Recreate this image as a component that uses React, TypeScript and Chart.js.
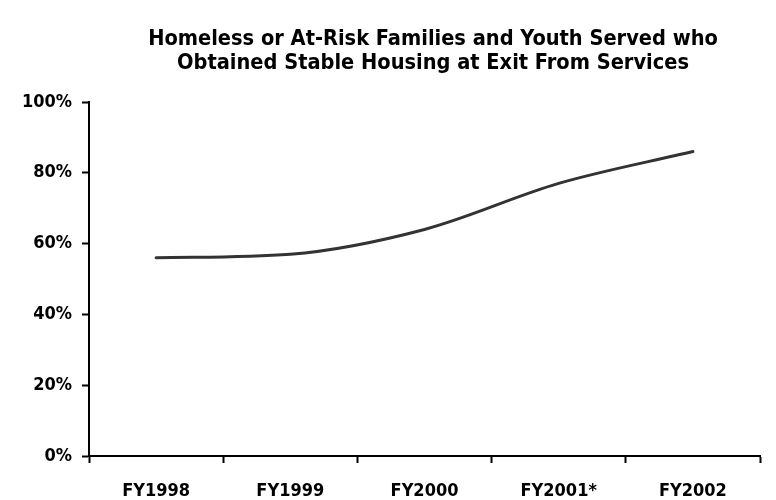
import React, { useEffect, useRef } from "react";
import { Chart, registerables } from "chart.js";

Chart.register(...registerables);

const titleLines = [
  "Homeless or At-Risk Families and Youth Served who",
  "Obtained Stable Housing at Exit From Services",
];
const categories = ["FY1998", "FY1999", "FY2000", "FY2001*", "FY2002"];
const stableHousingPct = [56, 57, 64, 77, 86];
const yTicks = [0, 20, 40, 60, 80, 100];

const FONT = "'DejaVu Sans Condensed', 'DejaVu Sans', sans-serif";

const titlePlugin = {
  id: "customTitle",
  afterDraw(chart: any) {
    const ctx = chart.ctx;
    ctx.save();
    ctx.fillStyle = "#000";
    ctx.font = `bold 21.6px ${FONT}`;
    ctx.textAlign = "center";
    ctx.textBaseline = "middle";
    titleLines.forEach((line, i) => {
      ctx.fillText(line, 425, 31 + i * 24);
    });
    ctx.restore();
  },
};

export default function App() {
  const ref = useRef<HTMLCanvasElement | null>(null);
  useEffect(() => {
    if (!ref.current) return;
    const chart = new Chart(ref.current, {
      type: "line",
      data: {
        labels: categories,
        datasets: [
          {
            data: stableHousingPct,
            borderColor: "#333333",
            borderWidth: 3,
            pointRadius: 0,
            cubicInterpolationMode: "monotone",
            fill: false,
            borderCapStyle: "round",
          },
        ],
      },
      options: {
        responsive: false,
        animation: false,
        layout: { padding: { top: 94, right: 8, bottom: 0, left: 0 } },
        plugins: {
          legend: { display: false },
          tooltip: { enabled: false },
          title: { display: false },
        },
        scales: {
          x: {
            type: "category",
            offset: true,
            afterFit: (scale: any) => {
              scale.height = 44;
            },
            grid: {
              display: true,
              offset: true,
              drawOnChartArea: false,
              drawTicks: true,
              tickLength: 7,
              tickWidth: 2,
              color: "#000",
            },
            border: { display: true, color: "#000", width: 2 },
            ticks: {
              color: "#000",
              padding: 18,
              maxRotation: 0,
              font: { family: FONT, size: 18, weight: "bold" },
            },
          },
          y: {
            min: 0,
            max: 100,
            afterFit: (scale: any) => {
              scale.width = 81;
            },
            afterBuildTicks: (axis: any) => {
              axis.ticks = yTicks.map((v) => ({ value: v }));
            },
            grid: {
              display: true,
              drawOnChartArea: false,
              drawTicks: true,
              tickLength: 7,
              tickWidth: 2,
              color: "#000",
            },
            border: { display: true, color: "#000", width: 2 },
            ticks: {
              color: "#000",
              padding: 10,
              font: { family: FONT, size: 18, weight: "bold" },
              callback: (v: any) => v + "%",
            },
          },
        },
      },
      plugins: [titlePlugin],
    });
    return () => chart.destroy();
  }, []);
  return (
    <div style={{ width: 760, height: 492 }}>
      <canvas ref={ref} width={760} height={492} style={{ display: "block" }} />
    </div>
  );
}
